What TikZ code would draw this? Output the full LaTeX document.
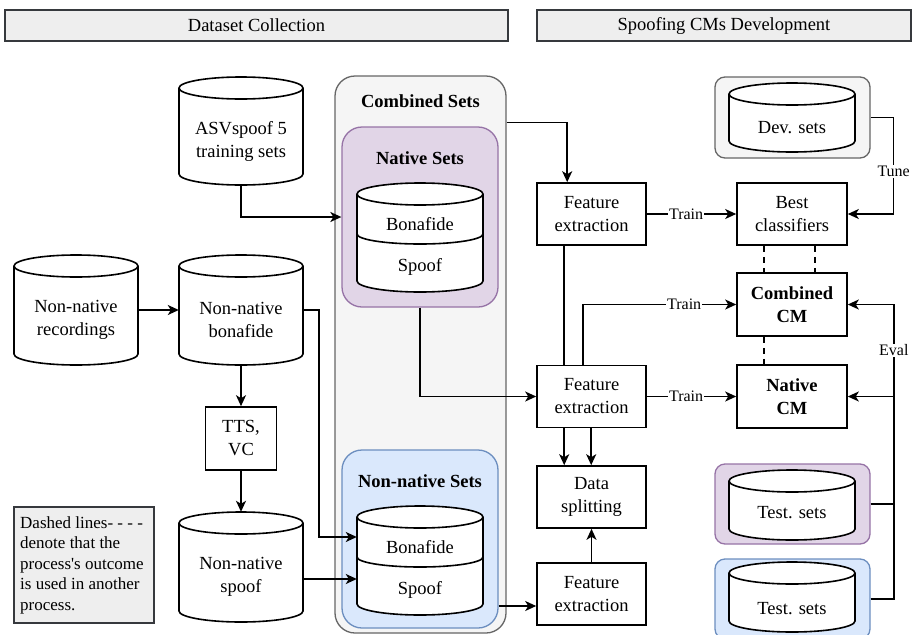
\documentclass[tikz,border=0pt]{standalone}
\usepackage{fontspec}
\setmainfont{Liberation Serif}
\newfontfamily\tnr{Liberation Serif}
\usetikzlibrary{arrows.meta,calc}
\definecolor{combF}{HTML}{F5F5F5}
\definecolor{combD}{HTML}{666666}
\definecolor{natF}{HTML}{E1D5E7}
\definecolor{natD}{HTML}{9673A6}
\definecolor{nnF}{HTML}{DAE8FC}
\definecolor{nnD}{HTML}{6C8EBF}
\definecolor{hdrF}{HTML}{EEEEEE}
\definecolor{hdrD}{HTML}{36393D}
\newcommand\mainsz{\tnr\fontsize{18.5}{23}\selectfont}
\newcommand\lblsz{\tnr\fontsize{16}{19}\selectfont}
\newcommand\legsz{\tnr\fontsize{17}{20.5}\selectfont}
\def\cylRY{11}
\newcommand\dbcyl[7]{%
  \pgfmathsetmacro\cylRX{(#4-#2)/2}%
  \pgfmathsetmacro\cylMX{(#4+#2)/2}%
  \pgfmathsetmacro\cylMY{(#3+#5)/2}%
  \pgfmathsetmacro\cylW{#4-#2}%
  \pgfmathsetmacro\cylH{#5-#3}%
  \filldraw[cylsty] (#2,-#3-\cylRY) -- (#2,-#5+\cylRY) arc[start angle=180,end angle=360,x radius=\cylRX pt,y radius=\cylRY pt] -- (#4,-#3-\cylRY) arc[start angle=0,end angle=180,x radius=\cylRX pt,y radius=\cylRY pt] -- cycle;
  \draw[ln] (#2,-#3-\cylRY) arc[start angle=180,end angle=360,x radius=\cylRX pt,y radius=\cylRY pt];
  \node[inner sep=0,minimum width=\cylW pt,minimum height=\cylH pt] (#1) at (\cylMX,-\cylMY) {};
  \node[txt] (#1-t) at (\cylMX,-#6) {#7};
}
\tikzset{
  ln/.style={line width=1.6pt, draw=black},
  cylsty/.style={line width=1.6pt, draw=black, fill=white},
  arr/.style={ln, -{Stealth[length=11pt,width=10pt,inset=3pt]}},
  dsh/.style={ln, dash pattern=on 6pt off 5pt},
  txt/.style={align=center, font=\mainsz, inner sep=0},
  ttl/.style={align=center, font=\mainsz\bfseries, inner sep=0},
  lbl/.style={fill=white, font=\lblsz, inner sep=1pt},
  proc/.style={draw, line width=1.6pt, fill=white, align=center, font=\mainsz, inner sep=0, minimum width=109pt, minimum height=62pt},
  grp/.style={line width=1.3pt, rounded corners=20pt, inner sep=0},
  hdr/.style={draw=hdrD, fill=hdrF, line width=1.5pt, font=\mainsz, inner sep=0},
}
\begin{document}
\begin{tikzpicture}[x=1pt,y=1pt]
\useasboundingbox (0,0) rectangle (914,-635);
\clip (0,0) rectangle (914,-635);
% headers
\node[hdr, minimum width=503pt, minimum height=31pt] (h1) at (256.5,-25.5) {Dataset Collection};
\node[hdr, minimum width=374pt, minimum height=31pt] (h2) at (724,-25.5) {Spoofing CMs Development};
% group boxes
\node[grp, fill=combF, draw=combD, minimum width=171pt, minimum height=557pt] (comb) at (420.5,-354.5) {};
\node[ttl] (combt) at (420.5,-101) {Combined Sets};
\node[grp, fill=natF, draw=natD, minimum width=156pt, minimum height=180pt] (natset) at (420,-217) {};
\node[ttl] (natt) at (420,-158) {Native Sets};
\node[grp, fill=nnF, draw=nnD, minimum width=156pt, minimum height=178pt] (nnset) at (420,-539) {};
\node[ttl] (nnt) at (420,-481) {Non-native Sets};
\node[grp, fill=combF, draw=combD, rounded corners=10pt, minimum width=155pt, minimum height=81pt] (devbox) at (792.5,-117.5) {};
\node[grp, fill=natF, draw=natD, rounded corners=10pt, minimum width=155pt, minimum height=80pt] (testp) at (792.5,-504) {};
\node[grp, fill=nnF, draw=nnD, rounded corners=10pt, minimum width=155pt, minimum height=80pt] (testb) at (792.5,-599) {};
% cylinders
\dbcyl{asv}{179}{77}{303}{185}{141.5}{ASVspoof 5\\training sets}
\dbcyl{nnrec}{14}{255}{138}{365}{320}{Non-native\\recordings}
\dbcyl{nnbona}{179}{255}{303}{365}{320}{Non-native\\bonafide}
\dbcyl{nnspoof}{179}{512}{303}{622}{577}{Non-native\\spoof}
\dbcyl{natcyl}{357}{183}{483}{292}{224}{Bonafide}
\draw[ln] (357,-234) arc[start angle=180,end angle=360,x radius=63pt,y radius=10pt];
\node[txt] (nats) at (420,-267) {Spoof};
\dbcyl{nncyl}{357}{506}{483}{615}{547}{Bonafide}
\draw[ln] (357,-557) arc[start angle=180,end angle=360,x radius=63pt,y radius=10pt];
\node[txt] (nns) at (420,-590) {Spoof};
\dbcyl{dev}{729}{83}{855}{152}{128}{Dev. sets}
\dbcyl{tp}{729}{470}{855}{540}{513}{Test. sets}
\dbcyl{tb}{729}{562}{855}{632}{609}{Test. sets}
% process boxes
\node[proc, minimum width=71pt, minimum height=63pt] (tts) at (241,-438.5) {TTS,\\VC};
\node[proc] (fe1) at (591.5,-214) {Feature\\extraction};
\node[proc] (fe2) at (591.5,-396.5) {Feature\\extraction};
\node[proc] (ds) at (591.5,-497) {Data\\splitting};
\node[proc] (fe3) at (591.5,-594) {Feature\\extraction};
\node[proc, minimum width=110pt] (bc) at (792,-214) {Best\\classifiers};
\node[proc, minimum width=110pt, minimum height=63pt, font=\mainsz\bfseries] (ccm) at (792,-304.5) {Combined\\CM};
\node[proc, minimum width=110pt, minimum height=63pt, font=\mainsz\bfseries] (ncm) at (792,-396.5) {Native\\CM};
% legend
\node[hdr, minimum width=140pt, minimum height=116pt] (leg) at (84,-565) {};
\node[font=\legsz, align=left, inner sep=0, anchor=north west] (legt) at (20,-516) {Dashed lines- - - -\\denote that the\\process\textquotesingle s outcome\\is used in another\\process.};
% connectors (dataset side)
\draw[arr] (asv.south) |- (natset.west);
\draw[arr] (nnrec.east) -- (nnbona.west);
\coordinate (inB) at ($(nncyl.west |- nncyl-t.center)+(0,10)$);
\coordinate (inS) at ($(nncyl.west |- nns.center)+(0,11)$);
\draw[arr] (nnbona.east) -- ++(16,0) |- (inB);
\draw[arr] (nnbona.south) -- (tts.north);
\draw[arr] (tts.south) -- (nnspoof.north);
\draw[arr] (nnspoof.east |- inS) -- (inS);
% connectors (CM side)
\draw[arr] ($(comb.north east)+(0,-47)$) -| ($(fe1.north west)+(31,0)$);
\draw[arr] (natset.south) |- (fe2.west);
\draw[ln] ($(fe1.south west)+(28,0)$) -- ($(fe2.north west)+(28,0)$);
\draw[arr] ($(fe2.north west)+(47,0)$) |- (ccm.west) node[lbl,pos=0.83]{Train};
\draw[arr] (fe1.east) -- (bc.west) node[lbl,pos=0.44]{Train};
\draw[arr] (fe2.east) -- (ncm.west) node[lbl,pos=0.44]{Train};
\draw[arr] ($(fe2.south west)+(28,0)$) -- ($(ds.north west)+(28,0)$);
\draw[arr] ($(fe2.south west)+(55,0)$) -- ($(ds.north west)+(55,0)$);
\draw[arr] (fe3.north) -- (ds.south);
\coordinate (f3in) at ($(fe3.west)+(0,-12)$);
\draw[arr] (nnset.east |- f3in) -- (f3in);
\draw[arr] (devbox.east) -- ++(23,0) coordinate (tn) -- (tn |- bc.east) node[lbl,pos=0.56]{Tune} -- (bc.east);
\coordinate (evx) at ($(bc.east)+(46,0)$);
\draw[arr] (testb.east) -- (testb.east -| evx) -- (ccm.east -| evx) node[lbl,pos=0.845]{Eval} -- (ccm.east);
\draw[arr] (ncm.east -| evx) -- (ncm.east);
\draw[ln] (testp.east) -- (testp.east -| evx);
\draw[dsh] ($(bc.south west)+(28,0)$) -- ($(ccm.north west)+(28,0)$);
\draw[dsh] ($(bc.south west)+(79,0)$) -- ($(ccm.north west)+(79,0)$);
\draw[dsh] ($(ccm.south west)+(28,0)$) -- ($(ncm.north west)+(28,0)$);
\end{tikzpicture}
\end{document}
